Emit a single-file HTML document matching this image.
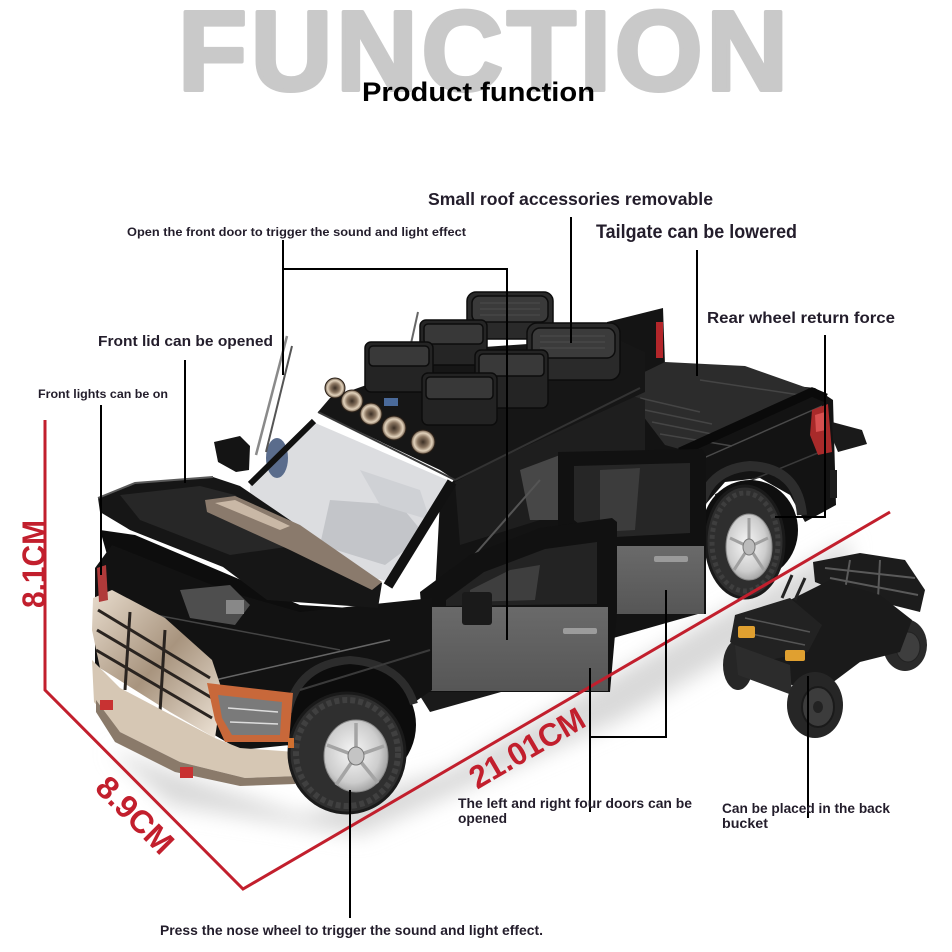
<!DOCTYPE html>
<html><head><meta charset="utf-8">
<style>
html,body{margin:0;padding:0;background:#fff;}
svg{display:block;}
text{font-family:"Liberation Sans",Arial,sans-serif;font-weight:bold;}
</style></head><body>
<svg width="952" height="952" viewBox="0 0 952 952" xmlns="http://www.w3.org/2000/svg">
<defs>
<filter id="blur8" x="-20%" y="-20%" width="140%" height="140%"><feGaussianBlur stdDeviation="10"/></filter>
<radialGradient id="rim" cx="0.45" cy="0.45" r="0.6"><stop offset="0" stop-color="#f6f6f6"/><stop offset="0.7" stop-color="#cdcdcd"/><stop offset="1" stop-color="#9a9a9a"/></radialGradient>
<linearGradient id="chrome" x1="0" y1="0" x2="1" y2="1"><stop offset="0" stop-color="#e8dccd"/><stop offset="0.5" stop-color="#a8947e"/><stop offset="1" stop-color="#efe5d8"/></linearGradient>
<linearGradient id="door" x1="0" y1="0" x2="0" y2="1"><stop offset="0" stop-color="#6a6a6a"/><stop offset="1" stop-color="#565656"/></linearGradient>
<radialGradient id="lamp" cx="0.5" cy="0.5" r="0.5"><stop offset="0" stop-color="#3a2e24"/><stop offset="0.45" stop-color="#8a7560"/><stop offset="0.75" stop-color="#e2d2bc"/><stop offset="1" stop-color="#6a5846"/></radialGradient>
</defs>
<rect width="952" height="952" fill="#fff"/>

<!-- Title -->
<text x="178" y="90" font-size="113" fill="#c9c9c9" stroke="#c9c9c9" stroke-width="4" stroke-linejoin="round" textLength="610" lengthAdjust="spacing">FUNCTION</text>
<text x="362" y="101" font-size="27" fill="#000" textLength="233" lengthAdjust="spacingAndGlyphs">Product function</text>

<!-- ground shadow -->
<g filter="url(#blur8)" fill="#d9d9d9">
<polygon points="110,750 300,815 450,770 700,625 850,540 845,590 620,720 360,835 170,805"/>
</g>

<!-- ===== Rear part ===== -->
<polygon points="607,322 663,308 665,365 625,382 608,372" fill="#141414"/>
<rect x="656" y="322" width="7" height="36" fill="#b3262a"/>
<polygon points="440,500 455,478 625,386 660,372 815,388 833,400 836,505 805,522 790,495 760,478 725,482 705,505 705,612 430,690" fill="#131313"/>
<polygon points="628,380 665,362 745,366 813,390 800,398 690,452 665,445 640,412" fill="#2c2c2c"/>
<g stroke="#454545" stroke-width="1.5">
<line x1="640" y1="398" x2="700" y2="412"/><line x1="645" y1="410" x2="712" y2="424"/>
<line x1="652" y1="422" x2="722" y2="436"/><line x1="660" y1="434" x2="732" y2="446"/>
<line x1="700" y1="380" x2="800" y2="395"/>
</g>
<polyline points="680,452 812,392 826,398" fill="none" stroke="#0a0a0a" stroke-width="9"/>
<line x1="690" y1="464" x2="822" y2="406" stroke="#4a4a4a" stroke-width="1.5"/>
<line x1="715" y1="495" x2="830" y2="448" stroke="#3a3a3a" stroke-width="1.5"/>
<ellipse cx="750" cy="530" rx="48" ry="50" fill="#0e0e0e"/>
<path d="M698,525 Q700,470 750,466 Q798,468 802,515" fill="none" stroke="#2d2d2d" stroke-width="10"/>
<!-- rear wheel -->
<ellipse cx="745" cy="542" rx="39" ry="56" fill="#2e2e2e" stroke="#1a1a1a" stroke-width="3"/>
<ellipse cx="745" cy="542" rx="33" ry="49" fill="none" stroke="#3e3e3e" stroke-width="5" stroke-dasharray="4 3"/>
<ellipse cx="749" cy="547" rx="23" ry="33" fill="url(#rim)" stroke="#888" stroke-width="1"/>
<g stroke="#a0a0a0" stroke-width="3">
<line x1="749" y1="547" x2="749" y2="518"/><line x1="749" y1="547" x2="768" y2="538"/>
<line x1="749" y1="547" x2="764" y2="570"/><line x1="749" y1="547" x2="734" y2="570"/>
<line x1="749" y1="547" x2="730" y2="538"/>
</g>
<ellipse cx="749" cy="547" rx="6" ry="8" fill="#bbb" stroke="#777"/>
<polygon points="812,410 828,404 832,452 818,455 810,435" fill="#a82a2a"/>
<polygon points="815,415 825,412 826,430 816,432" fill="#d85050"/>
<polygon points="832,422 862,430 867,444 838,452 833,440" fill="#1a1a1a"/>
<rect x="830" y="470" width="7" height="28" fill="#1e1e1e"/>

<!-- ===== Cab ===== -->
<polygon points="455,482 620,392 645,400 645,455 560,455 540,520 460,545" fill="#1e1e1e"/>
<polygon points="520,470 560,455 575,470 565,520 530,520" fill="#474747"/>
<polygon points="318,412 330,398 470,348 615,338 645,352 645,392 470,472 455,480 440,470" fill="#161616"/>
<line x1="318" y1="412" x2="455" y2="480" stroke="#3a3a3a" stroke-width="2"/>
<line x1="455" y1="480" x2="640" y2="388" stroke="#333" stroke-width="2"/>
<polygon points="250,482 313,422 452,482 390,582 300,560 250,512" fill="#dcdde0"/>
<polygon points="330,500 400,505 425,535 385,565 320,545" fill="#c3c5c9"/>
<polygon points="360,470 420,490 430,520 380,505" fill="#cfd1d5"/>
<ellipse cx="277" cy="458" rx="11" ry="20" fill="#5a6c8c"/>
<line x1="250" y1="484" x2="314" y2="421" stroke="#111" stroke-width="6"/>
<line x1="452" y1="482" x2="388" y2="586" stroke="#111" stroke-width="10"/>
<line x1="470" y1="560" x2="540" y2="480" stroke="#555" stroke-width="2"/>
<polygon points="214,442 240,436 250,446 249,470 236,472 218,462" fill="#141414"/>
<line x1="256" y1="455" x2="287" y2="336" stroke="#8a8a8a" stroke-width="2.5"/>
<line x1="266" y1="452" x2="292" y2="346" stroke="#555" stroke-width="2"/>
<line x1="410" y1="348" x2="418" y2="312" stroke="#666" stroke-width="2"/>

<!-- roof boxes -->
<g stroke="#0c0c0c" stroke-width="1.5">
<rect x="467" y="292" width="86" height="47" rx="9" fill="#2a2a2a"/>
<rect x="472" y="296" width="76" height="26" rx="7" fill="#3a3a3a"/>
<rect x="420" y="320" width="67" height="45" rx="6" fill="#252525"/>
<rect x="424" y="324" width="59" height="20" rx="4" fill="#383838"/>
<rect x="527" y="323" width="93" height="57" rx="10" fill="#2a2a2a"/>
<rect x="532" y="328" width="83" height="30" rx="8" fill="#3b3b3b"/>
<rect x="365" y="342" width="68" height="50" rx="6" fill="#242424"/>
<rect x="369" y="346" width="60" height="20" rx="4" fill="#393939"/>
<rect x="475" y="350" width="73" height="58" rx="6" fill="#242424"/>
<rect x="479" y="354" width="65" height="22" rx="4" fill="#393939"/>
<rect x="422" y="373" width="75" height="52" rx="6" fill="#232323"/>
<rect x="426" y="377" width="67" height="22" rx="4" fill="#383838"/>
</g>
<g stroke="#4c4c4c" stroke-width="1">
<line x1="480" y1="303" x2="540" y2="303"/><line x1="480" y1="309" x2="540" y2="309"/><line x1="480" y1="315" x2="540" y2="315"/>
<line x1="540" y1="336" x2="605" y2="336"/><line x1="540" y1="342" x2="605" y2="342"/><line x1="540" y1="348" x2="605" y2="348"/>
</g>
<g stroke="#2a2018" stroke-width="1">
<circle cx="335" cy="388" r="10" fill="url(#lamp)"/>
<circle cx="352" cy="401" r="11" fill="url(#lamp)"/>
<circle cx="371" cy="414" r="11" fill="url(#lamp)"/>
<circle cx="394" cy="428" r="12" fill="url(#lamp)"/>
<circle cx="423" cy="442" r="12" fill="url(#lamp)"/>
</g>
<rect x="384" y="398" width="14" height="8" fill="#4a6a9a"/>

<!-- ===== Doors ===== -->
<polygon points="415,688 560,658 572,672 430,712" fill="#1a1a1a"/>
<polygon points="558,452 702,449 706,455 706,614 612,614 612,545 558,545" fill="#111"/>
<polygon points="574,466 690,463 690,533 596,538 574,520" fill="#262626"/>
<polygon points="600,470 640,468 635,530 600,532" fill="#3c3c3c"/>
<rect x="613" y="546" width="91" height="68" fill="url(#door)"/>
<rect x="654" y="556" width="34" height="6" rx="2" fill="#9a9a9a"/>

<polygon points="420,592 470,555 540,528 612,518 617,522 617,612 610,692 428,692" fill="#111"/>
<polygon points="446,600 484,572 545,549 597,542 597,604 446,606" fill="#232323"/>
<polygon points="470,590 510,570 540,565 535,600 470,602" fill="#3e3e3e"/>
<rect x="427" y="607" width="181" height="84" fill="url(#door)"/>
<rect x="563" y="628" width="34" height="6" rx="2" fill="#9c9c9c"/>
<rect x="462" y="592" width="30" height="33" rx="3" fill="#1a1a1a"/>

<!-- ===== Front ===== -->
<polygon points="100,530 135,535 300,605 385,610 330,640 200,640 120,600" fill="#0d0d0d"/>
<ellipse cx="350" cy="725" rx="66" ry="62" fill="#0c0c0c"/>
<path d="M95,568 L112,545 L230,592 L300,612 L432,598 L432,690 L412,704 Q400,668 350,664 Q300,668 288,712 L290,745 L240,750 L95,665 Z" fill="#121212"/>
<path d="M288,712 Q298,664 350,660 Q402,664 414,704" fill="none" stroke="#2c2c2c" stroke-width="8"/>
<polygon points="180,590 230,585 250,605 235,625 190,618" fill="#4e4e4e"/>
<rect x="226" y="600" width="18" height="14" fill="#888"/>
<line x1="215" y1="680" x2="390" y2="640" stroke="#666" stroke-width="1.5"/>
<line x1="140" y1="612" x2="340" y2="650" stroke="#444" stroke-width="1.5"/>
<line x1="300" y1="690" x2="430" y2="650" stroke="#3a3a3a" stroke-width="2"/>
<polygon points="98,498 135,483 213,477 240,486 382,583 378,608 267,600 223,567 130,530 100,512" fill="#161616"/>
<polygon points="120,495 200,486 235,495 300,545 230,555 140,520" fill="#272727"/>
<polyline points="98,498 135,483 213,477" fill="none" stroke="#5a5a5a" stroke-width="2"/>
<polygon points="205,500 235,496 300,525 382,582 372,590 290,550 207,512" fill="#8a7a6c"/>
<polygon points="215,503 235,500 290,526 280,530" fill="#c9b8a6"/>
<polygon points="93,598 112,590 165,618 212,660 222,690 215,738 170,712 100,668 92,630" fill="url(#chrome)"/>
<g stroke="#2a2420" stroke-width="3">
<line x1="98" y1="610" x2="210" y2="678"/><line x1="97" y1="630" x2="212" y2="698"/>
<line x1="96" y1="650" x2="212" y2="718"/><line x1="130" y1="612" x2="125" y2="690"/>
<line x1="165" y1="630" x2="160" y2="712"/>
</g>
<polygon points="92,660 120,688 215,738 240,748 296,752 298,776 245,778 180,762 120,732 94,702" fill="#d6c7b4"/>
<polygon points="96,700 120,732 180,762 245,778 298,776 295,784 240,786 175,772 115,742 96,712" fill="#8a7a6a"/>
<polygon points="207,683 293,693 289,742 225,742 215,720" fill="#c8683a"/>
<polygon points="218,695 282,702 280,735 232,735 222,718" fill="#7a7a7a"/>
<g stroke="#ddd" stroke-width="1.5"><line x1="228" y1="708" x2="278" y2="712"/><line x1="230" y1="722" x2="278" y2="724"/></g>
<ellipse cx="347" cy="753" rx="58" ry="60" fill="#2f2f2f" stroke="#1a1a1a" stroke-width="3"/>
<ellipse cx="347" cy="753" rx="51" ry="53" fill="none" stroke="#404040" stroke-width="6" stroke-dasharray="5 3"/>
<ellipse cx="356" cy="756" rx="32" ry="36" fill="url(#rim)" stroke="#888"/>
<g stroke="#a4a4a4" stroke-width="3.5">
<line x1="356" y1="756" x2="356" y2="723"/><line x1="356" y1="756" x2="384" y2="746"/>
<line x1="356" y1="756" x2="378" y2="783"/><line x1="356" y1="756" x2="336" y2="785"/>
<line x1="356" y1="756" x2="327" y2="745"/>
</g>
<ellipse cx="356" cy="756" rx="8" ry="9" fill="#c4c4c4" stroke="#777"/>
<rect x="100" y="700" width="13" height="10" fill="#c83232"/>
<rect x="180" y="767" width="13" height="11" fill="#c83232"/>
<rect x="288" y="738" width="6" height="10" fill="#d07030"/>
<polygon points="97,568 106,565 108,600 99,602" fill="#b03a3a"/>

<!-- ===== ATV ===== -->
<g>
<ellipse cx="905" cy="645" rx="22" ry="26" fill="#2a2a2a"/>
<ellipse cx="908" cy="647" rx="12" ry="15" fill="#3e3e3e" stroke="#222"/>
<ellipse cx="738" cy="665" rx="15" ry="25" fill="#262626"/>
<polygon points="813,562 860,553 905,560 925,590 920,612 880,602 840,592 815,582" fill="#1c1c1c"/>
<g stroke="#5a5a5a" stroke-width="2"><line x1="825" y1="568" x2="915" y2="578"/><line x1="830" y1="578" x2="918" y2="595"/><line x1="850" y1="560" x2="845" y2="590"/><line x1="880" y1="560" x2="878" y2="598"/></g>
<polygon points="790,600 830,580 880,595 912,620 900,652 860,662 820,692 780,682 760,650" fill="#1a1a1a"/>
<polygon points="735,615 790,598 822,625 808,652 760,662 730,642" fill="#222"/>
<g stroke="#555" stroke-width="1.5"><line x1="745" y1="618" x2="810" y2="632"/><line x1="742" y1="632" x2="805" y2="645"/></g>
<polygon points="735,645 790,665 792,695 738,675" fill="#2c2c2c"/>
<line x1="782" y1="598" x2="792" y2="575" stroke="#222" stroke-width="3"/>
<line x1="795" y1="600" x2="805" y2="578" stroke="#222" stroke-width="3"/>
<rect x="738" y="626" width="17" height="12" rx="2" fill="#e0a030"/>
<rect x="785" y="650" width="20" height="11" rx="2" fill="#e0a030"/>
<ellipse cx="815" cy="705" rx="28" ry="33" fill="#262626"/>
<ellipse cx="818" cy="707" rx="16" ry="20" fill="#3c3c3c" stroke="#1a1a1a" stroke-width="2"/>
<ellipse cx="818" cy="707" rx="5" ry="6" fill="#222"/>
</g>

<!-- ===== Red dimension lines ===== -->
<g stroke="#c21f2d" stroke-width="3" fill="none">
<polyline points="45,420 45,690 243,889 890,512"/>
</g>
<g fill="#c21f2d" font-size="32">
<text transform="translate(45,608) rotate(-90)" textLength="88" lengthAdjust="spacingAndGlyphs">8.1CM</text>
<text transform="translate(135,815) rotate(45)" text-anchor="middle" dy="11" textLength="95" lengthAdjust="spacingAndGlyphs">8.9CM</text>
<text transform="translate(527,748) rotate(-30.2)" text-anchor="middle" dy="11" textLength="128" lengthAdjust="spacingAndGlyphs">21.01CM</text>
</g>

<!-- ===== Leader lines ===== -->
<g stroke="#000" stroke-width="2" fill="none">
<path d="M283,240 V375 M283,269 H507 V640"/>
<path d="M185,360 V483"/>
<path d="M101,405 V575"/>
<path d="M571,217 V343"/>
<path d="M697,250 V376"/>
<path d="M825,335 V517 H775"/>
<path d="M590,668 V812 M590,737 H666 V590"/>
<path d="M808,676 V818"/>
<path d="M350,790 V918"/>
</g>

<!-- ===== Labels ===== -->
<g fill="#231d2b">
<text x="428" y="205" font-size="17.5" textLength="285" lengthAdjust="spacingAndGlyphs">Small roof accessories removable</text>
<text x="127" y="236" font-size="11.5" textLength="339" lengthAdjust="spacingAndGlyphs">Open the front door to trigger the sound and light effect</text>
<text x="596" y="238" font-size="19" textLength="201" lengthAdjust="spacingAndGlyphs">Tailgate can be lowered</text>
<text x="707" y="323" font-size="16" textLength="188" lengthAdjust="spacingAndGlyphs">Rear wheel return force</text>
<text x="98" y="346" font-size="14.5" textLength="175" lengthAdjust="spacingAndGlyphs">Front lid can be opened</text>
<text x="38" y="398" font-size="12" textLength="130" lengthAdjust="spacingAndGlyphs">Front lights can be on</text>
<text x="458" y="808" font-size="13.5" textLength="234" lengthAdjust="spacingAndGlyphs">The left and right four doors can be</text>
<text x="458" y="823" font-size="13.5" textLength="49" lengthAdjust="spacingAndGlyphs">opened</text>
<text x="722" y="813" font-size="13.5" textLength="168" lengthAdjust="spacingAndGlyphs">Can be placed in the back</text>
<text x="722" y="828" font-size="13.5" textLength="46" lengthAdjust="spacingAndGlyphs">bucket</text>
<text x="160" y="935" font-size="14" textLength="383" lengthAdjust="spacingAndGlyphs">Press the nose wheel to trigger the sound and light effect.</text>
</g>
</svg>
</body></html>
